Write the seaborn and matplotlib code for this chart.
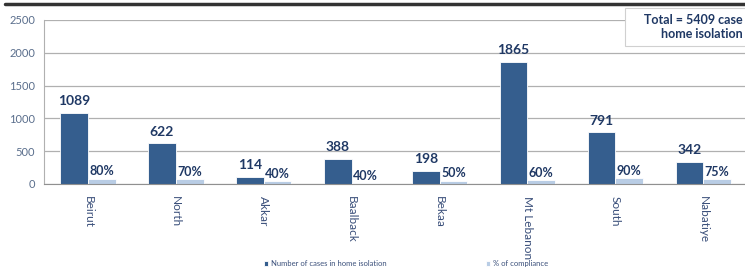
import pandas as pd
import numpy as np
import matplotlib.pyplot as plt
import seaborn as sns
from matplotlib.lines import Line2D
from matplotlib.patches import Rectangle

regions = ["Beirut", "North", "Akkar", "Baalback", "Bekaa", "Mt Lebanon", "South", "Nabatiye"]
cases = [1089, 622, 114, 388, 198, 1865, 791, 342]
compliance = [80, 70, 40, 10, 50, 60, 90, 75]
compliance_labels = ["80%", "70%", "40%", "40%", "50%", "60%", "90%", "75%"]
series = ["Number of cases in home isolation", "% of compliance"]

df = pd.DataFrame({
    "region": regions * 2,
    "value": cases + compliance,
    "series": [series[0]] * len(regions) + [series[1]] * len(regions),
})

sns.set_style("white")
plt.rcParams["font.family"] = ["Lato", "DejaVu Sans"]

navy = "#1F3864"
fig = plt.figure(figsize=(7.45, 2.69), dpi=100)
ax = fig.add_axes([0.059, 0.316, 0.944, 0.61])

sns.barplot(data=df, x="region", y="value", hue="series", ax=ax,
            palette=["#355E8E", "#B9CDE5"], width=0.63, saturation=1,
            edgecolor="white", linewidth=0.6)

ax.set_ylim(0, 2500)
ax.set_xlim(-0.5, 7.5)
ax.set_yticks(range(0, 2501, 500))
ax.yaxis.grid(True, color="#B0B0B0", linewidth=0.9)
ax.set_axisbelow(True)
for s in ["top", "right"]:
    ax.spines[s].set_visible(False)
ax.spines["left"].set_color("#B0B0B0")
ax.spines["bottom"].set_color("#909090")
ax.tick_params(axis="y", labelsize=8, colors="#5A6E8C", length=3, color="#B0B0B0")
ax.set_xticks(np.arange(-0.5, 8, 1), minor=True)
ax.tick_params(axis="x", which="minor", length=4, color="#909090", direction="out")
ax.tick_params(axis="x", which="major", length=0, labelsize=8.5, labelcolor="#3A4F7A", pad=9)
ax.set_xticks(range(len(regions)))
ax.set_xticklabels(regions, rotation=270, va="top", ha="center")
ax.set_xlabel("")
ax.set_ylabel("")

dark, light = ax.containers[0], ax.containers[1]
for bar, v in zip(dark, cases):
    ax.annotate(str(v), (bar.get_x() + bar.get_width() / 2, bar.get_height()),
                xytext=(0, 4), textcoords="offset points", ha="center", va="bottom",
                fontsize=10, fontweight="bold", color=navy)
for bar, lab in zip(light, compliance_labels):
    ax.annotate(lab, (bar.get_x() + bar.get_width() / 2, bar.get_height()),
                xytext=(0, 1), textcoords="offset points", ha="center", va="bottom",
                fontsize=9, fontweight="bold", color=navy)

leg = ax.legend(loc="lower center", bbox_to_anchor=(0.545, -0.005), bbox_transform=fig.transFigure,
                ncol=2, frameon=False, fontsize=5.5, handlelength=0.6, handleheight=0.6,
                columnspacing=12.9, handletextpad=0.4, borderaxespad=0)
for t in leg.get_texts():
    t.set_color("#3A4F7A")

# header rule and total box
fig.add_artist(Line2D([0.007, 1.0], [0.985, 0.985], color="#333333", linewidth=2.5))
fig.add_artist(Rectangle((0.839, 0.83), 0.2, 0.14, transform=fig.transFigure,
                         facecolor="white", edgecolor="#D0D0D0", linewidth=0.8))
fig.text(0.997, 0.90, "Total = 5409 case\nhome isolation", ha="right", va="center",
         fontsize=9, fontweight="bold", color=navy, linespacing=1.2,
         multialignment="right")

fig.savefig("out.png", dpi=100)
